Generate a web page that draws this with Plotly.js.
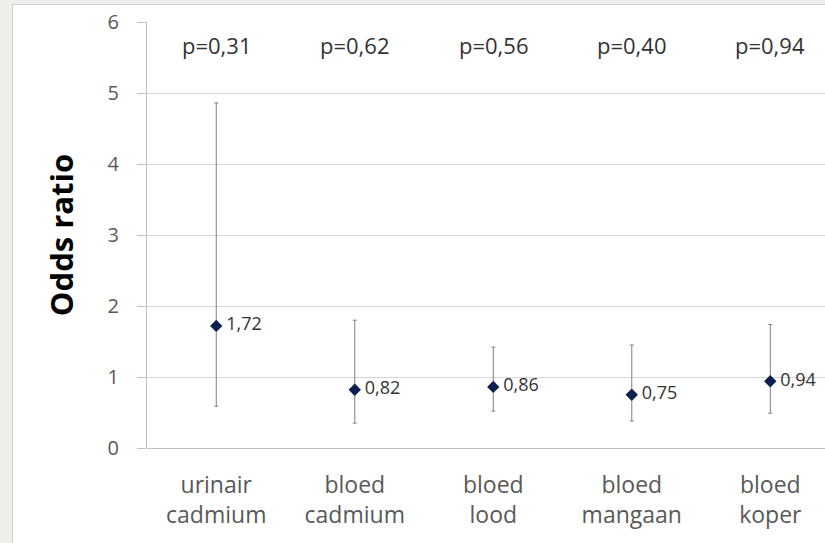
<!DOCTYPE html>
<html>
<head>
<meta charset="utf-8">
<script src="https://cdn.plot.ly/plotly-3.0.1.min.js"></script>
<style>
  html, body { margin: 0; padding: 0; background: #eeeeea; overflow: hidden; width: 825px; height: 543px; }
  #chart { position: absolute; left: 12px; top: 4px; width: 813px; height: 539px; border-left: 1px solid #cfcfcb; border-top: 1px solid #cfcfcb; background: #fff; }
</style>
</head>
<body>
<div id="chart"></div>
<script>
const categories = ["urinair<br>cadmium", "bloed<br>cadmium", "bloed<br>lood", "bloed<br>mangaan", "bloed<br>koper"];
const oddsRatio = [1.72, 0.82, 0.86, 0.75, 0.94];
const ciUpper = [4.86, 1.80, 1.42, 1.45, 1.74];
const ciLower = [0.59, 0.35, 0.52, 0.38, 0.49];
const pValues = ["p=0,31", "p=0,62", "p=0,56", "p=0,40", "p=0,94"];
const yTicks = [0, 1, 2, 3, 4, 5, 6];

const idx = categories.map((_, i) => i);
const fmt = v => '\u2009' + v.toFixed(2).replace('.', ',');
const FONT = 'Open Sans, sans-serif';

const trace = {
  x: idx,
  y: oddsRatio,
  type: 'scatter',
  mode: 'markers+text',
  text: oddsRatio.map(fmt),
  textposition: 'middle right',
  textfont: { family: FONT, size: 18, color: '#333333' },
  marker: { symbol: 'diamond', size: 9.5, color: '#0d1f4f' },
  error_y: {
    type: 'data',
    symmetric: false,
    array: ciUpper.map((u, i) => u - oddsRatio[i]),
    arrayminus: oddsRatio.map((v, i) => v - ciLower[i]),
    color: '#808080',
    thickness: 1,
    width: 2
  },
  cliponaxis: true,
  hoverinfo: 'skip'
};

const annotations = pValues.map((p, i) => ({
  x: i, xref: 'x', y: 5.68, yref: 'y',
  text: p, showarrow: false,
  font: { family: FONT, size: 22, color: '#333333' }
}));

const layout = {
  width: 812, height: 538,
  margin: { l: 134, r: 0, t: 17, b: 95 },
  paper_bgcolor: '#ffffff',
  plot_bgcolor: '#ffffff',
  showlegend: false,
  font: { family: FONT, color: '#595959' },
  xaxis: {
    range: [-0.5, 4.395],
    tickvals: idx,
    ticktext: categories,
    tickfont: { size: 23, color: '#595959' },
    showgrid: false,
    zeroline: false,
    showline: false,
    ticks: '',
    ticklabelstandoff: 21,
    fixedrange: true
  },
  yaxis: {
    range: [0, 6],
    tickvals: yTicks,
    tickfont: { size: 20, color: '#595959' },
    showgrid: true,
    gridcolor: '#d6d6d6',
    gridwidth: 1,
    zeroline: true,
    zerolinecolor: '#bfbfbf',
    zerolinewidth: 1,
    showline: true,
    linecolor: '#bfbfbf',
    linewidth: 1,
    ticks: 'outside',
    ticklen: 9,
    tickcolor: '#bfbfbf',
    ticklabelstandoff: 14,
    title: { text: '<b>Odds ratio</b>', font: { size: 31, color: '#000000' }, standoff: 24 },
    fixedrange: true
  },
  annotations: annotations
};

Plotly.newPlot('chart', [trace], layout, { displayModeBar: false, staticPlot: true });
</script>
</body>
</html>
